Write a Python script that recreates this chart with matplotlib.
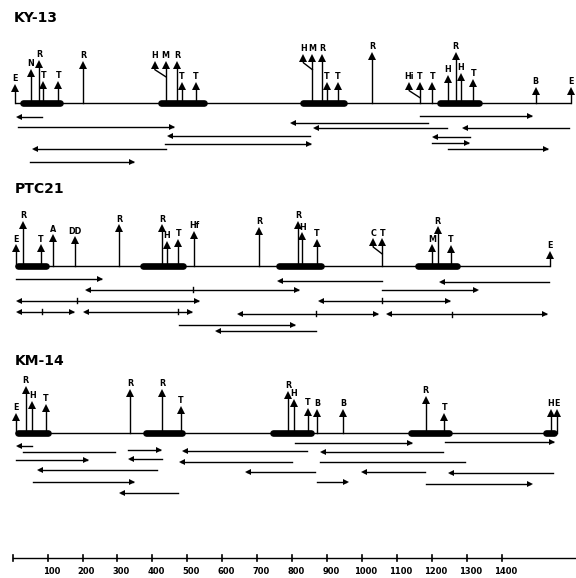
# Mapas de restriccion de tres clones (KY-13, PTC21, KM-14)
import matplotlib.pyplot as plt

# Escala del dibujo original: pixeles por par de bases y origen
PX_BP = 0.3493
X0_PX = 12.7

# ---------------- KY-13 ----------------
ky_pos = [7, 52, 76, 88, 131, 202, 407, 438, 470, 484, 525, 832, 858, 885, 899, 930,
          1030, 1135, 1166, 1201, 1245, 1268, 1283, 1319, 1497, 1598]
ky_lab = ['E', 'N', 'R', 'T', 'T', 'R', 'H', 'M', 'R', 'T', 'T', 'H', 'M', 'R', 'T', 'T',
          'R', 'Hi', 'T', 'T', 'H', 'R', 'H', 'T', 'B', 'E']
ky_alt = [18, 33, 42, 21, 21, 41, 41, 41, 41, 20, 20, 48, 48, 48, 20, 20,
          50, 20, 20, 20, 27, 50, 29, 23, 15, 15]
ky_bends = [(407, 438), (832, 858), (1135, 1166)]
ky_exons = [(21, 144), (416, 556), (825, 956), (1216, 1343)]
ky_span = (7, 1598)
# lecturas: (cola, punta, fila)
ky_reads = [(83, 9, 14.5), (1166, 1490, 13.5), (15, 465, 24.5), (1189, 794, 20.5),
            (851, 442, 33.5), (1243, 860, 25.5), (1594, 1286, 25.5), (436, 856, 41.5),
            (438, 56, 46.5), (50, 350, 59), (1309, 1200, 34), (1200, 1309, 40),
            (1246, 1536, 46.5)]
ky_double = []
ky_lines = []

# ---------------- PTC21 ----------------
ptc_pos = [9, 29, 81, 116, 178, 305, 427, 441, 474, 519, 706, 818, 829, 870,
           1032, 1058, 1200, 1217, 1255, 1538]
ptc_lab = ['E', 'R', 'T', 'A', 'DD', 'R', 'R', 'H', 'T', 'Hf', 'R', 'R', 'H', 'T',
           'C', 'T', 'M', 'R', 'T', 'E']
ptc_alt = [21, 44, 21, 31, 29, 41, 41, 24, 26, 34, 38, 44, 33, 26,
           27, 27, 21, 39, 20, 14]
ptc_bends = [(1032, 1058)]
ptc_exons = [(9, 102), (365, 496), (756, 889), (1152, 1279)]
ptc_span = (9, 1538)
ptc_reads = [(9, 259, 13.3), (1056, 757, 15), (1536, 1221, 16.3), (1056, 1333, 24),
             (868, 580, 65), (476, 811, 58.5)]
# lecturas en ambos sentidos: (inicio, fin, marca, fila)
ptc_double = [(207, 822, 517, 23.5), (9, 536, 183, 34.7), (875, 1254, 1058, 34.7),
              (9, 178, 83, 45.7), (202, 515, 474, 45.7), (643, 1049, 868, 47.5),
              (1069, 1533, 1257, 48)]
ptc_lines = []

# ---------------- KM-14 ----------------
km_pos = [9, 37, 56, 94, 336, 428, 481, 789, 805, 845, 872, 947, 1182, 1236, 1540, 1557]
km_lab = ['E', 'R', 'H', 'T', 'R', 'R', 'T', 'R', 'H', 'T', 'B', 'B', 'R', 'T', 'H', 'E']
km_alt = [19, 46, 31, 28, 43, 43, 26, 41, 33, 24, 23, 23, 36, 19, 23, 23]
km_bends = []
km_exons = [(9, 107), (374, 493), (739, 861), (1133, 1257), (1519, 1556)]
km_span = (9, 1557)
km_reads = [(54, 9, 13.3), (331, 427, 17.3), (842, 484, 17.8), (808, 1145, 9.8),
            (1238, 1553, 9), (1233, 880, 19), (9, 219, 27.3), (427, 331, 26.3),
            (799, 477, 29), (412, 69, 37.3), (866, 665, 39), (1180, 999, 39),
            (1548, 1247, 40), (59, 350, 49.6), (872, 961, 49), (1183, 1488, 51.3),
            (474, 305, 60.6)]
km_double = []
km_lines = [(30, 293, 19), (880, 1295, 29)]

# ---------------- escala ----------------
escala_ticks = [0, 100, 200, 300, 400, 500, 600, 700, 800, 900, 1000, 1100, 1200, 1300, 1400]
escala_fin = 1615

BP = 1 / PX_BP  # pares de bases por pixel (para desplazamientos)
LW = 1.0


def dibujar_mapa(ax, titulo, y0, y_tit, pos, lab, alt, bends, exons, span,
                 reads, double, lines):
    ax.text(pos[0] - 1 * BP, y_tit, titulo, fontsize=10, fontweight='bold',
            va='center', ha='left')
    # linea base y exones
    ax.plot(span, [y0, y0], color='k', lw=LW, solid_capstyle='butt')
    for a, b in exons:
        ax.plot([a + 2.5 * BP, b - 2.5 * BP], [y0, y0], color='k', lw=4.8,
                solid_capstyle='round')
    unidos = dict(bends)
    for x, l, h in zip(pos, lab, alt):
        punta = y0 - h
        if x in unidos:
            codo = punta + 8
            ax.plot([x, x, unidos[x]], [punta + 3, codo, codo + 7], color='k', lw=LW)
        else:
            ax.plot([x, x], [y0, punta + 3], color='k', lw=LW)
        ax.plot(x, punta + 3.2, marker='^', ms=5.2, color='k', mew=0)
        ax.text(x, punta - 1.5, l, fontsize=5.8, fontweight='heavy', ha='center',
                va='bottom')
    # lecturas con una punta
    for cola, punta_x, fila in reads:
        y = y0 + fila
        sgn = 1 if punta_x > cola else -1
        ax.plot([cola, punta_x - sgn * 2 * BP], [y, y], color='k', lw=LW)
        ax.plot(punta_x - sgn * 2.8 * BP, y, marker='>' if sgn > 0 else '<',
                ms=5.0, color='k', mew=0)
    # lecturas en ambos sentidos con marca intermedia
    for a, b, m, fila in double:
        y = y0 + fila
        ax.plot([a + 2 * BP, b - 2 * BP], [y, y], color='k', lw=LW)
        ax.plot(a + 2.8 * BP, y, marker='<', ms=5.0, color='k', mew=0)
        ax.plot(b - 2.8 * BP, y, marker='>', ms=5.0, color='k', mew=0)
        ax.plot([m, m], [y - 2.5, y + 2.5], color='k', lw=1.0)
    for a, b, fila in lines:
        ax.plot([a, b], [y0 + fila, y0 + fila], color='k', lw=LW)


fig = plt.figure(figsize=(5.76, 5.78), dpi=100)
ax = fig.add_axes([0, 0, 1, 1])
ax.set_xlim(-X0_PX * BP, (576 - X0_PX) * BP)
ax.set_ylim(578, 0)
ax.axis('off')

dibujar_mapa(ax, 'KY-13', 102.7, 18, ky_pos, ky_lab, ky_alt, ky_bends, ky_exons,
             ky_span, ky_reads, ky_double, ky_lines)
dibujar_mapa(ax, 'PTC21', 266, 189, ptc_pos, ptc_lab, ptc_alt, ptc_bends, ptc_exons,
             ptc_span, ptc_reads, ptc_double, ptc_lines)
dibujar_mapa(ax, 'KM-14', 432.7, 360.7, km_pos, km_lab, km_alt, km_bends, km_exons,
             km_span, km_reads, km_double, km_lines)

# barra de escala
y_esc = 558
ax.plot([escala_ticks[0], escala_fin], [y_esc, y_esc], color='k', lw=LW)
for t in escala_ticks:
    ax.plot([t, t], [y_esc - 3, y_esc + 3], color='k', lw=1.2)
    if t > 0:
        ax.text(t + 4 * BP, y_esc + 13, str(t), fontsize=6, fontweight='bold',
                ha='center', va='center')

fig.savefig('out.png', dpi=100)
